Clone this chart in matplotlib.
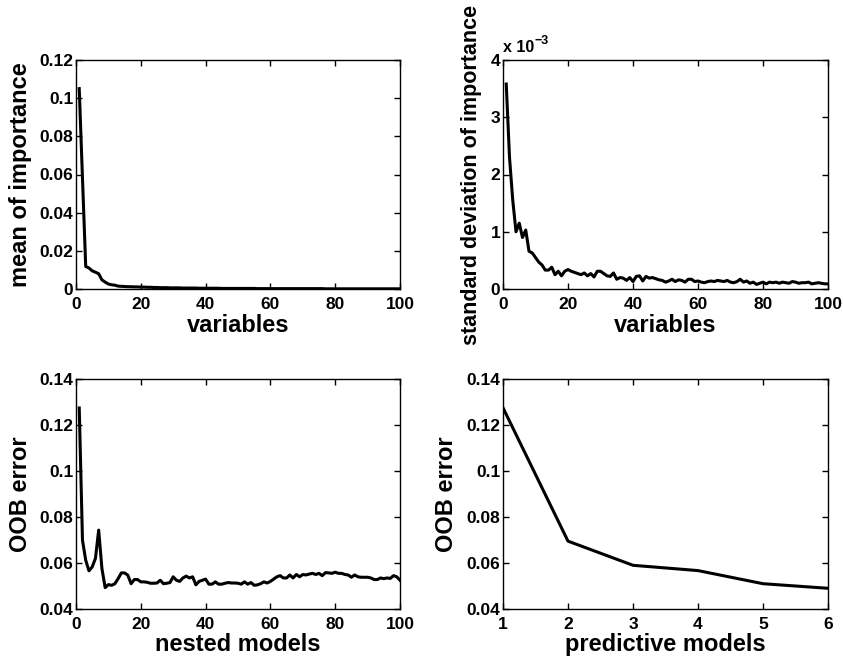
import matplotlib
matplotlib.use("Agg")
import matplotlib.pyplot as plt
from matplotlib.ticker import FuncFormatter

plt.rcParams['font.family'] = ['Liberation Sans', 'DejaVu Sans']
plt.rcParams['font.weight'] = 'bold'

variables = list(range(1, 101))

mean_importance = [
    0.105, 0.058, 0.0118, 0.0110, 0.0095, 0.0088, 0.0080, 0.0048, 0.0036, 0.0026,
    0.0022, 0.0020, 0.0015, 0.0014, 0.0013, 0.0012, 0.0012, 0.0011, 0.0011, 0.0010,
    0.0010, 0.0009, 0.0009, 0.0008, 0.0008, 0.0007, 0.0007, 0.0007, 0.0006, 0.0006,
    0.0006, 0.0006, 0.0005, 0.0005, 0.0005, 0.0005, 0.0005, 0.0004, 0.0004, 0.0004,
    0.0004, 0.0004, 0.0004, 0.0004, 0.0003, 0.0003, 0.0003, 0.0003, 0.0003, 0.0003,
    0.0003, 0.0003, 0.0003, 0.0003, 0.0003, 0.0002, 0.0002, 0.0002, 0.0002, 0.0002,
    0.0002, 0.0002, 0.0002, 0.0002, 0.0002, 0.0002, 0.0002, 0.0002, 0.0002, 0.0002,
    0.0002, 0.0002, 0.0002, 0.0002, 0.0002, 0.0002, 0.0001, 0.0001, 0.0001, 0.0001,
    0.0001, 0.0001, 0.0001, 0.0001, 0.0001, 0.0001, 0.0001, 0.0001, 0.0001, 0.0001,
    0.0001, 0.0001, 0.0001, 0.0001, 0.0001, 0.0001, 0.0001, 0.0001, 0.0001, 0.0001,
]

std_importance = [
    3.58e-3, 2.30e-3, 1.55e-3, 1.00e-3, 1.15e-3, 0.90e-3, 1.03e-3, 0.66e-3, 0.63e-3, 0.55e-3,
    0.47e-3, 0.42e-3, 0.33e-3, 0.33e-3, 0.38e-3, 0.25e-3, 0.31e-3, 0.23e-3, 0.31e-3, 0.34e-3,
    0.31e-3, 0.29e-3, 0.27e-3, 0.25e-3, 0.28e-3, 0.23e-3, 0.27e-3, 0.21e-3, 0.31e-3, 0.31e-3,
    0.27e-3, 0.23e-3, 0.22e-3, 0.28e-3, 0.17e-3, 0.20e-3, 0.19e-3, 0.15e-3, 0.20e-3, 0.13e-3,
    0.22e-3, 0.23e-3, 0.14e-3, 0.22e-3, 0.19e-3, 0.20e-3, 0.18e-3, 0.16e-3, 0.15e-3, 0.12e-3,
    0.14e-3, 0.17e-3, 0.13e-3, 0.16e-3, 0.15e-3, 0.12e-3, 0.17e-3, 0.17e-3, 0.13e-3, 0.14e-3,
    0.12e-3, 0.11e-3, 0.13e-3, 0.14e-3, 0.13e-3, 0.15e-3, 0.14e-3, 0.13e-3, 0.15e-3, 0.12e-3,
    0.11e-3, 0.13e-3, 0.17e-3, 0.12e-3, 0.14e-3, 0.10e-3, 0.12e-3, 0.08e-3, 0.10e-3, 0.12e-3,
    0.09e-3, 0.12e-3, 0.11e-3, 0.12e-3, 0.10e-3, 0.12e-3, 0.11e-3, 0.10e-3, 0.13e-3, 0.12e-3,
    0.10e-3, 0.11e-3, 0.11e-3, 0.12e-3, 0.09e-3, 0.10e-3, 0.11e-3, 0.10e-3, 0.09e-3, 0.09e-3,
]

nested_models = list(range(1, 101))
oob_nested = [
    0.1274, 0.0699, 0.0612, 0.0566, 0.0583, 0.0620, 0.0743, 0.0576, 0.0493, 0.0506,
    0.0503, 0.0510, 0.0532, 0.0557, 0.0557, 0.0547, 0.0510, 0.0528, 0.0528, 0.0518,
    0.0518, 0.0516, 0.0512, 0.0512, 0.0513, 0.0525, 0.0510, 0.0512, 0.0515, 0.0540,
    0.0525, 0.0520, 0.0535, 0.0543, 0.0535, 0.0540, 0.0505, 0.0520, 0.0525, 0.0530,
    0.0508, 0.0508, 0.0518, 0.0508, 0.0508, 0.0512, 0.0515, 0.0513, 0.0513, 0.0512,
    0.0508, 0.0518, 0.0508, 0.0515, 0.0503, 0.0505, 0.0510, 0.0518, 0.0513, 0.0520,
    0.0530, 0.0540, 0.0545, 0.0535, 0.0535, 0.0548, 0.0535, 0.0550, 0.0540, 0.0550,
    0.0548, 0.0552, 0.0555, 0.0550, 0.0555, 0.0545, 0.0558, 0.0557, 0.0555, 0.0560,
    0.0555, 0.0555, 0.0550, 0.0548, 0.0538, 0.0548, 0.0540, 0.0538, 0.0538, 0.0538,
    0.0535, 0.0528, 0.0528, 0.0535, 0.0532, 0.0535, 0.0533, 0.0545, 0.0540, 0.0525,
]

predictive_models = [1, 2, 3, 4, 5, 6]
oob_predictive = [0.1275, 0.0695, 0.0590, 0.0567, 0.0510, 0.0490]

W, H = 843, 657
fig = plt.figure(figsize=(W / 100, H / 100), dpi=100)

def add_ax(x0, y0, x1, y1):
    return fig.add_axes([x0 / W, 1 - y1 / H, (x1 - x0) / W, (y1 - y0) / H])

ax1 = add_ax(76, 60, 400, 289)
ax2 = add_ax(503, 60, 828, 289)
ax3 = add_ax(76, 379, 400, 609)
ax4 = add_ax(503, 379, 828, 609)

LW = 2.2
ax1.plot(variables, mean_importance, color='black', lw=LW)
ax2.plot(variables, std_importance, color='black', lw=LW)
ax3.plot(nested_models, oob_nested, color='black', lw=LW)
ax4.plot(predictive_models, oob_predictive, color='black', lw=LW)

def fmt(v, p):
    return ('%.4f' % v).rstrip('0').rstrip('.')

ax1.set_xlim(0, 100); ax1.set_ylim(0, 0.12)
ax1.set_yticks([0, 0.02, 0.04, 0.06, 0.08, 0.1, 0.12])
ax2.set_xlim(0, 100); ax2.set_ylim(0, 4e-3)
ax2.set_yticks([0, 1e-3, 2e-3, 3e-3, 4e-3])
ax3.set_xlim(0, 100); ax3.set_ylim(0.04, 0.14)
ax3.set_yticks([0.04, 0.06, 0.08, 0.1, 0.12, 0.14])
ax4.set_xlim(1, 6); ax4.set_ylim(0.04, 0.14)
ax4.set_yticks([0.04, 0.06, 0.08, 0.1, 0.12, 0.14])
ax4.set_xticks([1, 2, 3, 4, 5, 6])
for a in (ax1, ax2, ax3):
    a.set_xticks([0, 20, 40, 60, 80, 100])

for a in (ax1, ax3, ax4):
    a.yaxis.set_major_formatter(FuncFormatter(fmt))
ax2.yaxis.set_major_formatter(FuncFormatter(lambda v, p: '%d' % round(v * 1e3)))

for a in (ax1, ax2, ax3, ax4):
    a.tick_params(direction='in', top=True, right=True, length=4, width=1,
                  labelsize=12.5)
    a.tick_params(axis='x', pad=6)
    a.tick_params(axis='y', pad=2)
    for lab in a.get_xticklabels() + a.get_yticklabels():
        lab.set_fontweight('bold')
    for s in a.spines.values():
        s.set_linewidth(1.0)

LFS = 17
ax1.set_ylabel('mean of importance', fontsize=LFS, fontweight='bold')
ax1.set_xlabel('variables', fontsize=LFS, fontweight='bold')
ax2.set_ylabel('standard deviation of importance', fontsize=15.5, fontweight='bold')
ax2.set_xlabel('variables', fontsize=LFS, fontweight='bold')
ax3.set_ylabel('OOB error', fontsize=LFS, fontweight='bold')
ax3.set_xlabel('nested models', fontsize=LFS, fontweight='bold')
ax4.set_ylabel('OOB error', fontsize=LFS, fontweight='bold')
ax4.set_xlabel('predictive models', fontsize=LFS, fontweight='bold')

ax1.yaxis.set_label_coords(-0.135, 0.5)
ax2.yaxis.set_label_coords(-0.064, 0.5)
ax3.yaxis.set_label_coords(-0.135, 0.5)
ax4.yaxis.set_label_coords(-0.137, 0.5)
ax1.xaxis.set_label_coords(0.5, -0.108)
ax2.xaxis.set_label_coords(0.5, -0.108)
ax3.xaxis.set_label_coords(0.5, -0.105)
ax4.xaxis.set_label_coords(0.5, -0.105)

ax2.text(0.0, 1.02, 'x 10', transform=ax2.transAxes,
         fontsize=11.5, fontweight='bold', ha='left', va='bottom')
ax2.text(0.096, 1.055, '\u22123', transform=ax2.transAxes,
         fontsize=9, fontweight='bold', ha='left', va='bottom')

fig.savefig('out.png', dpi=100)
